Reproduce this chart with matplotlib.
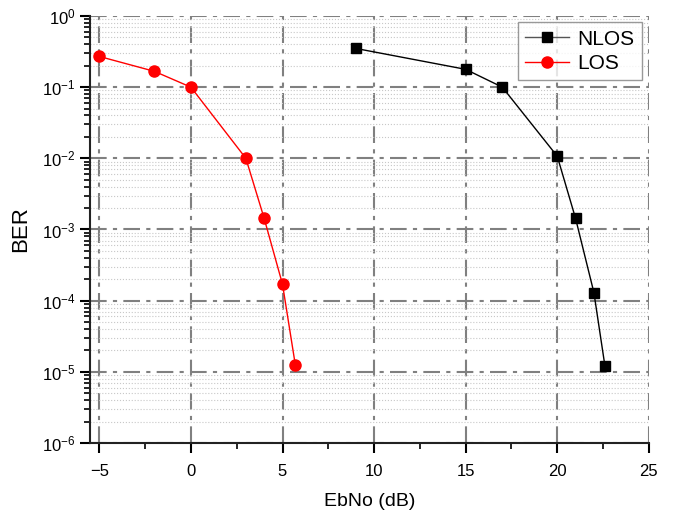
import matplotlib
matplotlib.use("Agg")
import matplotlib.pyplot as plt
from matplotlib.ticker import LogLocator, MultipleLocator, FixedLocator, NullFormatter

plt.rcParams['font.family'] = ['Liberation Sans', 'DejaVu Sans']

# data
nlos_ebno = [9, 15, 17, 20, 21, 22, 22.6]
nlos_ber = [0.35, 0.178, 0.1, 0.0107, 0.00143, 1.3e-4, 1.22e-5]
los_ebno = [-5, -2, 0, 3, 4, 5, 5.7]
los_ber = [0.27, 0.167, 0.1, 0.01, 0.00143, 1.7e-4, 1.25e-5]
ber_exponents = [-6, -5, -4, -3, -2, -1, 0]

fig = plt.figure(figsize=(6.78, 5.16), dpi=100)
ax = fig.add_axes([0.133, 0.1415, 0.824, 0.8275])

ax.plot(nlos_ebno, nlos_ber, color='black', lw=1, marker='s', ms=7, label='NLOS', zorder=3)
ax.plot(los_ebno, los_ber, color='red', lw=1, marker='o', ms=8, label='LOS', zorder=3)

ax.set_yscale('log')
ax.set_xlim(-5.5, 25)
ax.set_ylim(1e-6, 1)

ax.xaxis.set_major_locator(MultipleLocator(5))
ax.xaxis.set_minor_locator(MultipleLocator(2.5))
ax.yaxis.set_major_locator(FixedLocator([10.0 ** e for e in ber_exponents]))
ax.set_yticklabels([r'$\mathregular{10^{%d}}$' % e for e in ber_exponents])
ax.yaxis.set_minor_locator(LogLocator(base=10, subs=range(2, 10), numticks=100))
ax.yaxis.set_minor_formatter(NullFormatter())

ax.grid(which='major', color='#808080', linestyle=(0, (8, 3, 2, 3)), lw=1.5)
ax.grid(which='minor', axis='y', color='#c8c8c8', linestyle=':', lw=0.8)
ax.set_axisbelow(True)

for s in ['top', 'right']:
    ax.spines[s].set_visible(False)
for s in ['left', 'bottom']:
    ax.spines[s].set_linewidth(1.5)
    ax.spines[s].set_color('#222222')

ax.tick_params(which='major', direction='out', length=7, width=1.5, labelsize=12)
ax.tick_params(axis='x', which='major', pad=8)
ax.tick_params(which='minor', direction='out', length=4, width=1.2)

ax.set_xlabel('EbNo (dB)', fontsize=14, labelpad=10)
ax.set_ylabel('BER', fontsize=16, labelpad=8)

leg = ax.legend(loc='upper right', bbox_to_anchor=(0.987, 0.985), fontsize=15, frameon=True,
                fancybox=False, edgecolor='#808080', handlelength=2.1, handletextpad=0.4,
                borderpad=0.35, labelspacing=0.25, borderaxespad=0)
leg.get_frame().set_linewidth(1)
leg.get_lines()[0].set_color('#555555')
leg.get_lines()[0].set_markerfacecolor('black')
leg.get_lines()[0].set_markeredgecolor('black')

fig.savefig('out.png', dpi=100)
